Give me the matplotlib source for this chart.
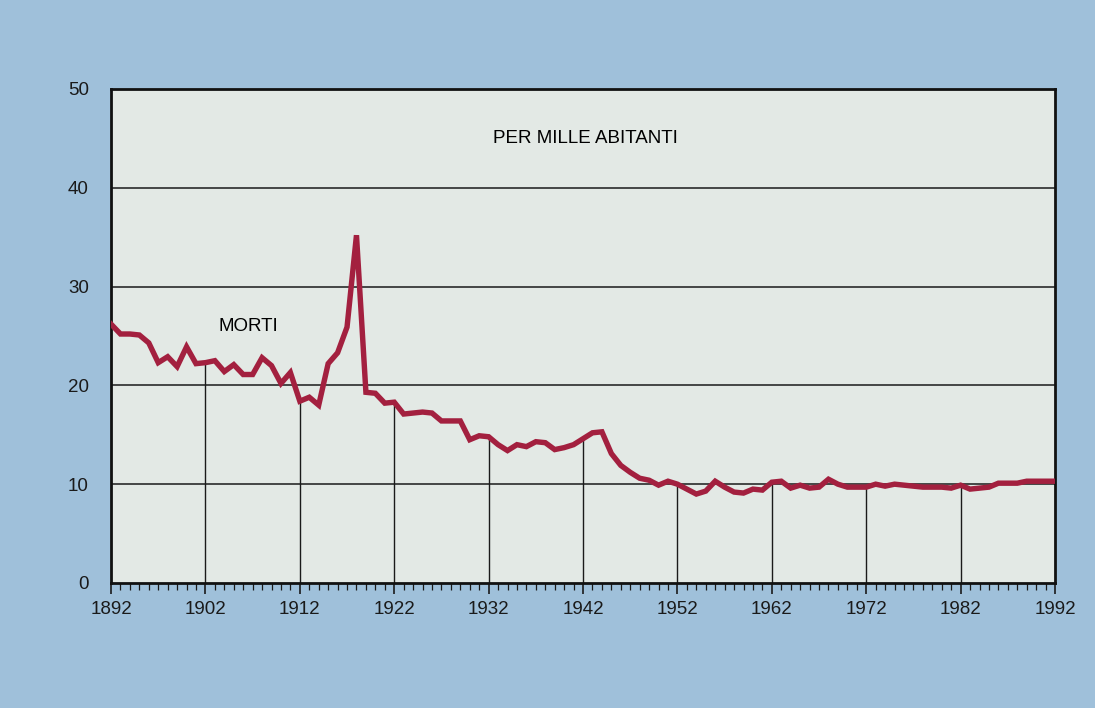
import numpy as np
import matplotlib
matplotlib.use("Agg")
import matplotlib.pyplot as plt

# tasso di mortalita', per mille abitanti
anni = list(range(1892, 1993))
morti = [
    26.2, 25.2, 25.2, 25.1, 24.3, 22.3, 22.9, 21.9, 23.9, 22.2,   # 1892-1901
    22.3, 22.5, 21.4, 22.1, 21.1, 21.1, 22.8, 22.0, 20.2, 21.3,   # 1902-1911
    18.4, 18.8, 18.0, 22.2, 23.3, 25.9, 35.2, 19.3, 19.2, 18.2,   # 1912-1921
    18.3, 17.1, 17.2, 17.3, 17.2, 16.4, 16.4, 16.4, 14.5, 14.9,   # 1922-1931
    14.8, 14.0, 13.4, 14.0, 13.8, 14.3, 14.2, 13.5, 13.7, 14.0,   # 1932-1941
    14.6, 15.2, 15.3, 13.1, 11.9, 11.2, 10.6, 10.4, 9.9, 10.3,    # 1942-1951
    10.0, 9.5, 9.0, 9.3, 10.3, 9.7, 9.2, 9.1, 9.5, 9.4,           # 1952-1961
    10.2, 10.3, 9.6, 9.9, 9.6, 9.7, 10.5, 10.0, 9.7, 9.7,         # 1962-1971
    9.7, 10.0, 9.8, 10.0, 9.9, 9.8, 9.7, 9.7, 9.7, 9.6,           # 1972-1981
    9.9, 9.5, 9.6, 9.7, 10.1, 10.1, 10.1, 10.3, 10.3, 10.3,       # 1982-1991
    10.3,                                                         # 1992
]
decadi = list(range(1892, 1993, 10))
y_ticks = [0, 10, 20, 30, 40, 50]

plt.rcParams['font.family'] = ['Liberation Sans', 'DejaVu Sans']

fig = plt.figure(figsize=(10.95, 7.08), dpi=100)
fig.patch.set_facecolor('#9fc0da')
ax = fig.add_axes([0.1014, 0.1766, 0.8621, 0.6977])
ax.set_facecolor('#e3e9e5')

ax.set_xlim(1892, 1992)
ax.set_ylim(0, 50)

# griglia orizzontale
for v in y_ticks[1:-1]:
    ax.axhline(v, color='#1a1a1a', lw=1.1, zorder=1)

# linee verticali dalle decadi fino alla curva
interne = decadi[1:-1]
ax.vlines(interne, 0, [morti[anni.index(d)] for d in interne],
          color='#1a1a1a', lw=1.0, zorder=1)

ax.plot(anni, morti, color='#a3203f', lw=3.9, solid_joinstyle='miter', zorder=3)

ax.set_xticks(decadi)
ax.set_xticks(anni, minor=True)
ax.set_yticks(y_ticks)
ax.tick_params(axis='x', which='major', direction='out', length=8, width=1.2,
               labelsize=13.5, pad=5, colors='#1a1a1a')
ax.tick_params(axis='x', which='minor', direction='out', length=5, width=0.9,
               colors='#1a1a1a')
ax.tick_params(axis='y', length=0, labelsize=13.5, pad=16, colors='#1a1a1a')

for s in ax.spines.values():
    s.set_linewidth(2.0)
    s.set_color('#111111')

ax.text(1942.3, 45, 'PER MILLE ABITANTI', ha='center', va='center', fontsize=13.5)
ax.text(1906.5, 26.0, 'MORTI', ha='center', va='center', fontsize=13.5)

fig.savefig('out.png', dpi=100, facecolor=fig.get_facecolor())
